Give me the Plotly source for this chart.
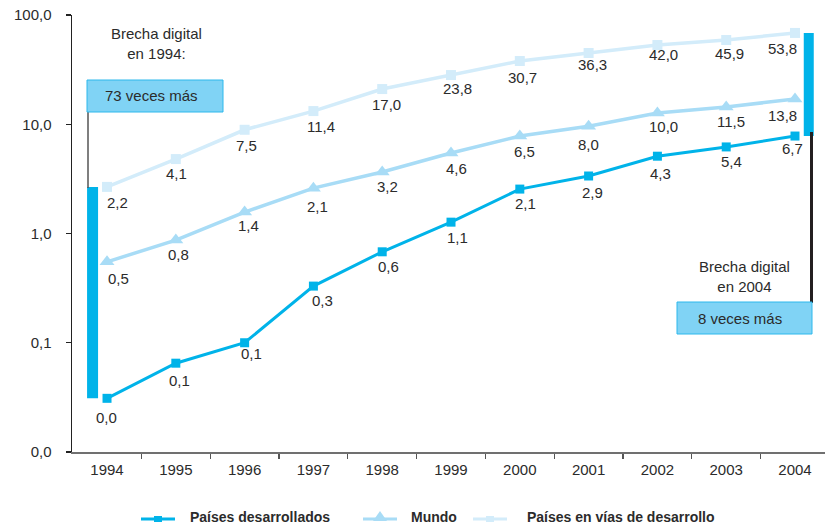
import numpy as np
import plotly.graph_objects as go

# ---------------- data ----------------
years = [1994, 1995, 1996, 1997, 1998, 1999, 2000, 2001, 2002, 2003, 2004]
year_labels = [str(y) for y in years]

desarrollados = [0.031, 0.065, 0.10, 0.33, 0.68, 1.27, 2.55, 3.36, 5.1, 6.2, 7.8]
desarrollados_lbl = ["0,0", "0,1", "0,1", "0,3", "0,6", "1,1", "2,1", "2,9", "4,3", "5,4", "6,7"]

mundo = [0.55, 0.87, 1.57, 2.6, 3.66, 5.45, 7.8, 9.6, 12.7, 14.4, 17.0]
mundo_lbl = ["0,5", "0,8", "1,4", "2,1", "3,2", "4,6", "6,5", "8,0", "10,0", "11,5", "13,8"]

en_desarrollo = [2.67, 4.8, 8.9, 13.2, 21.0, 28.2, 37.9, 44.9, 53.1, 59.0, 68.5]
en_desarrollo_lbl = ["2,2", "4,1", "7,5", "11,4", "17,0", "23,8", "30,7", "36,3", "42,0", "45,9", "53,8"]

y_tickvals = [0.01, 0.1, 1, 10, 100]
y_ticktext = ["0,0", "0,1", "1,0", "10,0", "100,0"]

series_names = ["Países desarrollados", "Mundo", "Países en vías de desarrollo"]

# ---------------- style ----------------
C_DEV = "#00b3e9"
C_MUN = "#a8dcf6"
C_EDV = "#d3ecfa"
C_BOX = "#80d3f5"
C_BOXLINE = "#2cb8ec"
TXT = "#2b2b2b"
FONT = "Liberation Sans, Arial, Helvetica, sans-serif"

# label pixel offsets (dx, dy) relative to each point
OFF_DEV = [(-1, -19), (4, -17), (7, -11), (9, -14), (6, -15), (6, -15), (6, -14),
           (4, -16), (3, -17), (5, -15), (-3, -12)]
OFF_MUN = [(11, -17), (3, -14), (4, -13), (4, -18), (5, -15), (5, -15), (5, -15),
           (0, -18), (6, -14), (5, -15), (-13, -16)]
OFF_EDV = [(10, -16), (1, -14), (2, -16), (8, -15), (4, -15), (6, -13), (3, -16),
           (4, -12), (6, -9), (3, -13), (-13, -16)]

W, H = 825, 525
ML, MR, MT, MB = 72, 0, 15, 73
PW, PH = W - ML - MR, H - MT - MB


def px(x):
    """pixel x -> paper x"""
    return (x - ML) / PW


def py(y):
    """pixel y -> paper y"""
    return (H - MB - y) / PH


fig = go.Figure()

# series lines
fig.add_trace(go.Scatter(x=years, y=en_desarrollo, mode="lines+markers",
                         line=dict(color=C_EDV, width=3.5),
                         marker=dict(symbol="square", size=10, color=C_EDV),
                         name=series_names[2], showlegend=False))
fig.add_trace(go.Scatter(x=years, y=mundo, mode="lines+markers",
                         line=dict(color=C_MUN, width=3.5),
                         marker=dict(symbol="triangle-up", size=13, color=C_MUN),
                         name=series_names[1], showlegend=False))
fig.add_trace(go.Scatter(x=years, y=desarrollados, mode="lines+markers",
                         line=dict(color=C_DEV, width=3),
                         marker=dict(symbol="square", size=9, color=C_DEV),
                         name=series_names[0], showlegend=False))

# gap bars (from the data of the first and last year)
fig.add_trace(go.Scatter(x=[years[0] - 0.21, years[0] - 0.21],
                         y=[desarrollados[0], en_desarrollo[0]], mode="lines",
                         line=dict(color=C_DEV, width=11), showlegend=False,
                         hoverinfo="skip"))
fig.add_trace(go.Scatter(x=[years[-1] + 0.2, years[-1] + 0.2],
                         y=[desarrollados[-1], en_desarrollo[-1]], mode="lines",
                         line=dict(color=C_DEV, width=10), showlegend=False,
                         hoverinfo="skip"))

annotations = []
# value labels
for vals, lbls, offs in [(desarrollados, desarrollados_lbl, OFF_DEV),
                         (mundo, mundo_lbl, OFF_MUN),
                         (en_desarrollo, en_desarrollo_lbl, OFF_EDV)]:
    for x, v, t, (dx, dy) in zip(years, vals, lbls, offs):
        annotations.append(dict(x=x, y=np.log10(v), xref="x", yref="y", text=t,
                                showarrow=False, xshift=dx, yshift=dy,
                                xanchor="center", yanchor="middle",
                                font=dict(family=FONT, size=15, color=TXT)))

shapes = []
# connector lines
shapes.append(dict(type="line", xref="paper", yref="paper",
                   x0=px(88), x1=px(88), y0=py(100), y1=py(188),
                   line=dict(color="#555555", width=1.5)))
shapes.append(dict(type="line", xref="paper", yref="paper",
                   x0=px(811.5), x1=px(811.5), y0=py(132), y1=py(303),
                   line=dict(color="#231f20", width=3)))
# boxes
shapes.append(dict(type="rect", xref="paper", yref="paper",
                   x0=px(87), x1=px(223), y0=py(80), y1=py(112),
                   fillcolor=C_BOX, line=dict(color=C_BOXLINE, width=1)))
shapes.append(dict(type="rect", xref="paper", yref="paper",
                   x0=px(677), x1=px(812), y0=py(302), y1=py(334),
                   fillcolor=C_BOX, line=dict(color=C_BOXLINE, width=1)))


def note(x, y, text, **kw):
    d = dict(x=px(x), y=py(y), xref="paper", yref="paper", text=text,
             showarrow=False, xanchor="center", yanchor="middle",
             font=dict(family=FONT, size=15, color=TXT))
    d.update(kw)
    return d


annotations += [
    note(156, 43, "Brecha digital<br>en 1994:"),
    note(151, 96, "73 veces más"),
    note(744, 276, "Brecha digital<br>en 2004"),
    note(740, 318, "8 veces más"),
]

# manual legend
LY = 519
legend_items = [
    (141, 175, 188, C_DEV, "square", series_names[0]),
    (363, 397, 409, C_MUN, "triangle", series_names[1]),
    (473, 507, 525, C_EDV, "square", series_names[2]),
]
for x0, x1, xt, col, sym, name in legend_items:
    shapes.append(dict(type="line", xref="paper", yref="paper",
                       x0=px(x0), x1=px(x1), y0=py(LY), y1=py(LY),
                       line=dict(color=col, width=3)))
    cx = (x0 + x1) / 2
    if sym == "square":
        shapes.append(dict(type="rect", xref="paper", yref="paper",
                           x0=px(cx - 4), x1=px(cx + 4), y0=py(LY + 3), y1=py(LY - 3),
                           fillcolor=col, line=dict(width=0)))
    else:
        path = "M {} {} L {} {} L {} {} Z".format(px(cx - 7), py(LY + 2), px(cx + 7), py(LY + 2),
                                                  px(cx), py(LY - 8))
        shapes.append(dict(type="path", xref="paper", yref="paper", path=path,
                           fillcolor=col, line=dict(width=0)))
    annotations.append(note(xt, LY - 2, "<b>" + name + "</b>", xanchor="left",
                            font=dict(family=FONT, size=14, color=TXT)))

fig.update_layout(
    width=W, height=H,
    margin=dict(l=ML, r=MR, t=MT, b=MB, autoexpand=False),
    paper_bgcolor="white", plot_bgcolor="white",
    showlegend=False, hovermode=False,
    shapes=shapes, annotations=annotations,
    xaxis=dict(range=[1993.491, 2004.436], tickmode="array", tickvals=years,
               ticktext=year_labels, ticks="", showgrid=False, zeroline=False,
               showline=True, linecolor="#707070", linewidth=1.5,
               tickfont=dict(family=FONT, size=15, color=TXT), ticklabelstandoff=3,
               automargin=False, ticklabeloverflow="allow",
               minor=dict(tickmode="array", tickvals=[y + 0.5 for y in years[:-1]],
                          ticks="outside", ticklen=5, tickcolor="#555555",
                          tickwidth=1.2, showgrid=False)),
    yaxis=dict(type="log", range=[-2, 2], tickmode="array", tickvals=y_tickvals,
               ticktext=y_ticktext, ticks="outside", ticklen=5, tickcolor="#222222",
               tickwidth=1.2, showgrid=False, zeroline=False, showline=True,
               linecolor="#222222", linewidth=1.5, automargin=False,
               ticklabeloverflow="allow",
               tickfont=dict(family=FONT, size=15, color=TXT), ticklabelstandoff=11),
)

fig.write_html("out.html", config={"displayModeBar": False, "staticPlot": True},
               post_script="document.body.style.margin='0';document.body.style.overflow='hidden';")
